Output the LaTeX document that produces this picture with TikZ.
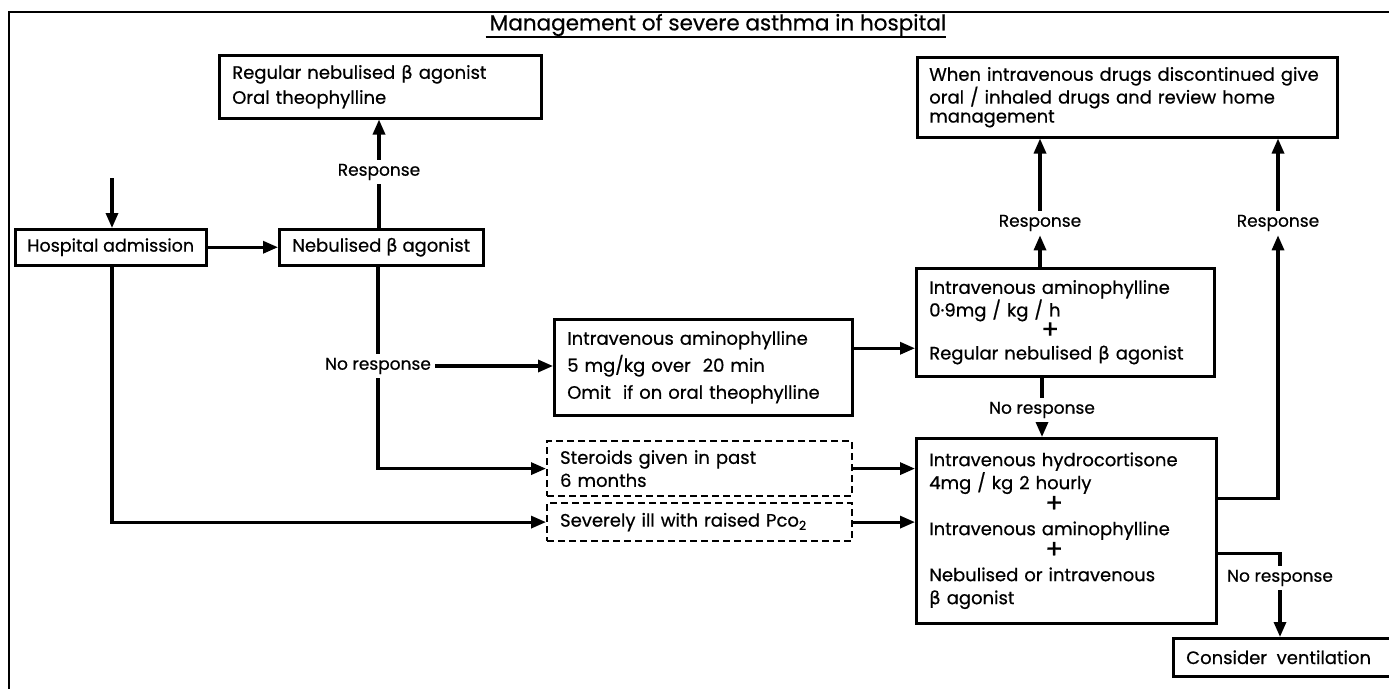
\documentclass[tikz,border=0pt]{standalone}
\usepackage{fontspec}
\setmainfont{Poppins}[FakeBold=0.6]
\newfontfamily\grk{DejaVu Sans}[FakeBold=0.4]
\newcommand\bt{{\grk β}}
\usetikzlibrary{arrows.meta,calc}
\begin{document}
\begin{tikzpicture}[x=1pt,y=-1pt,
  bx/.style={draw, line width=2.5pt, anchor=north west, inner xsep=13pt, inner ysep=0pt, align=left, font=\fontsize{18}{21}\selectfont},
  dbx/.style={bx, line width=2.2pt, dash pattern=on 7pt off 4pt},
  lbl/.style={font=\fontsize{17}{21}\selectfont, inner sep=4pt},
  ln/.style={line width=3.2pt},
  arr/.style={ln, -{Triangle[length=15pt,width=12pt]}}]
\useasboundingbox (0,0) rectangle (1389,688);
\clip (0,0) rectangle (1389,688);
% frame
\draw[line width=2.2pt] (9,700) -- (9,12) -- (1400,12);
% title
\node[font=\fontsize{21.5}{24}\selectfont, inner sep=0pt] (title) at (718,25) {Management of severe asthma in hospital};
\draw[line width=1.8pt] ($(title.base west)+(-4,7)$) -- ($(title.base east)+(0,7)$);
% boxes
\node[bx, text width=296pt, minimum height=63pt, font=\fontsize{18}{25}\selectfont] (reg) at (218,54) {Regular nebulised \bt{} agonist\\Oral theophylline};
\node[bx, text width=396pt, minimum height=80pt, inner xsep=12pt, font=\fontsize{18}{19}\selectfont] (when) at (916,56) {When intravenous drugs discontinued give\\oral / inhaled drugs and review home\\management};
\node[bx, inner xsep=0pt, minimum width=191pt, minimum height=36pt, font=\fontsize{17.5}{21}\selectfont] (adm) at (14,228) {Hospital admission};
\node[bx, inner xsep=0pt, minimum width=204pt, minimum height=36pt] (neb) at (278,228) {Nebulised \bt{} agonist};
\node[bx, text width=272pt, minimum height=96pt, font=\fontsize{18}{27}\selectfont] (E) at (553,318) {Intravenous aminophylline\\5 mg/kg over\ \ 20 min\\Omit\ \ if on oral theophylline};
\node[bx, text width=272pt, minimum height=108pt, font=\fontsize{18}{21}\selectfont] (F) at (915,267) {Intravenous aminophylline\\0·9mg / kg / h\\\hspace*{112pt}{\fontsize{26}{21}\selectfont +}\\Regular nebulised \bt{} agonist};
\node[bx, text width=274pt, minimum height=185pt, font=\fontsize{18}{23}\selectfont] (G) at (915,437) {Intravenous hydrocortisone\\4mg / kg 2 hourly\\\hspace*{116pt}{\fontsize{26}{23}\selectfont +}\\Intravenous aminophylline\\\hspace*{116pt}{\fontsize{26}{23}\selectfont +}\\Nebulised or intravenous\\\bt{} agonist};
\node[dbx, text width=279pt, minimum height=55pt, font=\fontsize{18}{23}\selectfont] (ster) at (546,440) {Steroids given in past\\6 months};
\node[dbx, text width=279pt, minimum height=38pt] (sev) at (546,502) {Severely ill with raised Pco\textsubscript{2}};
\node[bx, minimum width=230pt, minimum height=38pt] (vent) at (1172,637) {Consider\ \ ventilation\hspace*{25pt}};
% labels
\node[lbl] (r1) at (379,172) {Response};
\node[lbl] (nr1) at (378,366) {No response};
\node[lbl] (r2) at (1040,223) {Response};
\node[lbl] (nr2) at (1042,410) {No response};
\node[lbl] (r3) at (1278,223) {Response};
\node[lbl] (nr3) at (1280,578) {No response};
% connectors
\coordinate (in) at (112,178);
\draw[arr] (in) -- (in |- adm.north);
\draw[arr] (adm.east) -- (neb.west);
\draw[arr] (in |- adm.south) |- (sev.west);
\draw[ln] (r1.south |- neb.north) -- (r1.south);
\draw[arr] (r1.north) -- (r1.north |- reg.south);
\draw[ln] (nr1.north |- neb.south) -- (nr1.north);
\draw[arr] (nr1.south) |- (ster.west);
\draw[arr] (nr1.east) -- (nr1.east -| E.west);
\draw[arr] ([yshift=19pt]E.east) -- ([yshift=19pt]E.east -| F.west);
\draw[arr] (r2.south |- F.north) -- (r2.south);
\draw[arr] (r2.north) -- (r2.north |- when.south);
\draw[ln] (nr2.north |- F.south) -- (nr2.north);
\draw[arr] (nr2.south) -- (nr2.south |- G.north);
\draw[arr] (ster.east) -- (ster.east -| G.west);
\draw[arr] (sev.east) -- (sev.east -| G.west);
\draw[arr] ([yshift=32pt]G.east) -| (r3.south);
\draw[arr] (r3.north) -- (r3.north |- when.south);
\draw[ln] ([yshift=-23pt]G.east) -| (nr3.north);
\draw[arr] (nr3.south) -- (nr3.south |- vent.north);
\end{tikzpicture}
\end{document}
